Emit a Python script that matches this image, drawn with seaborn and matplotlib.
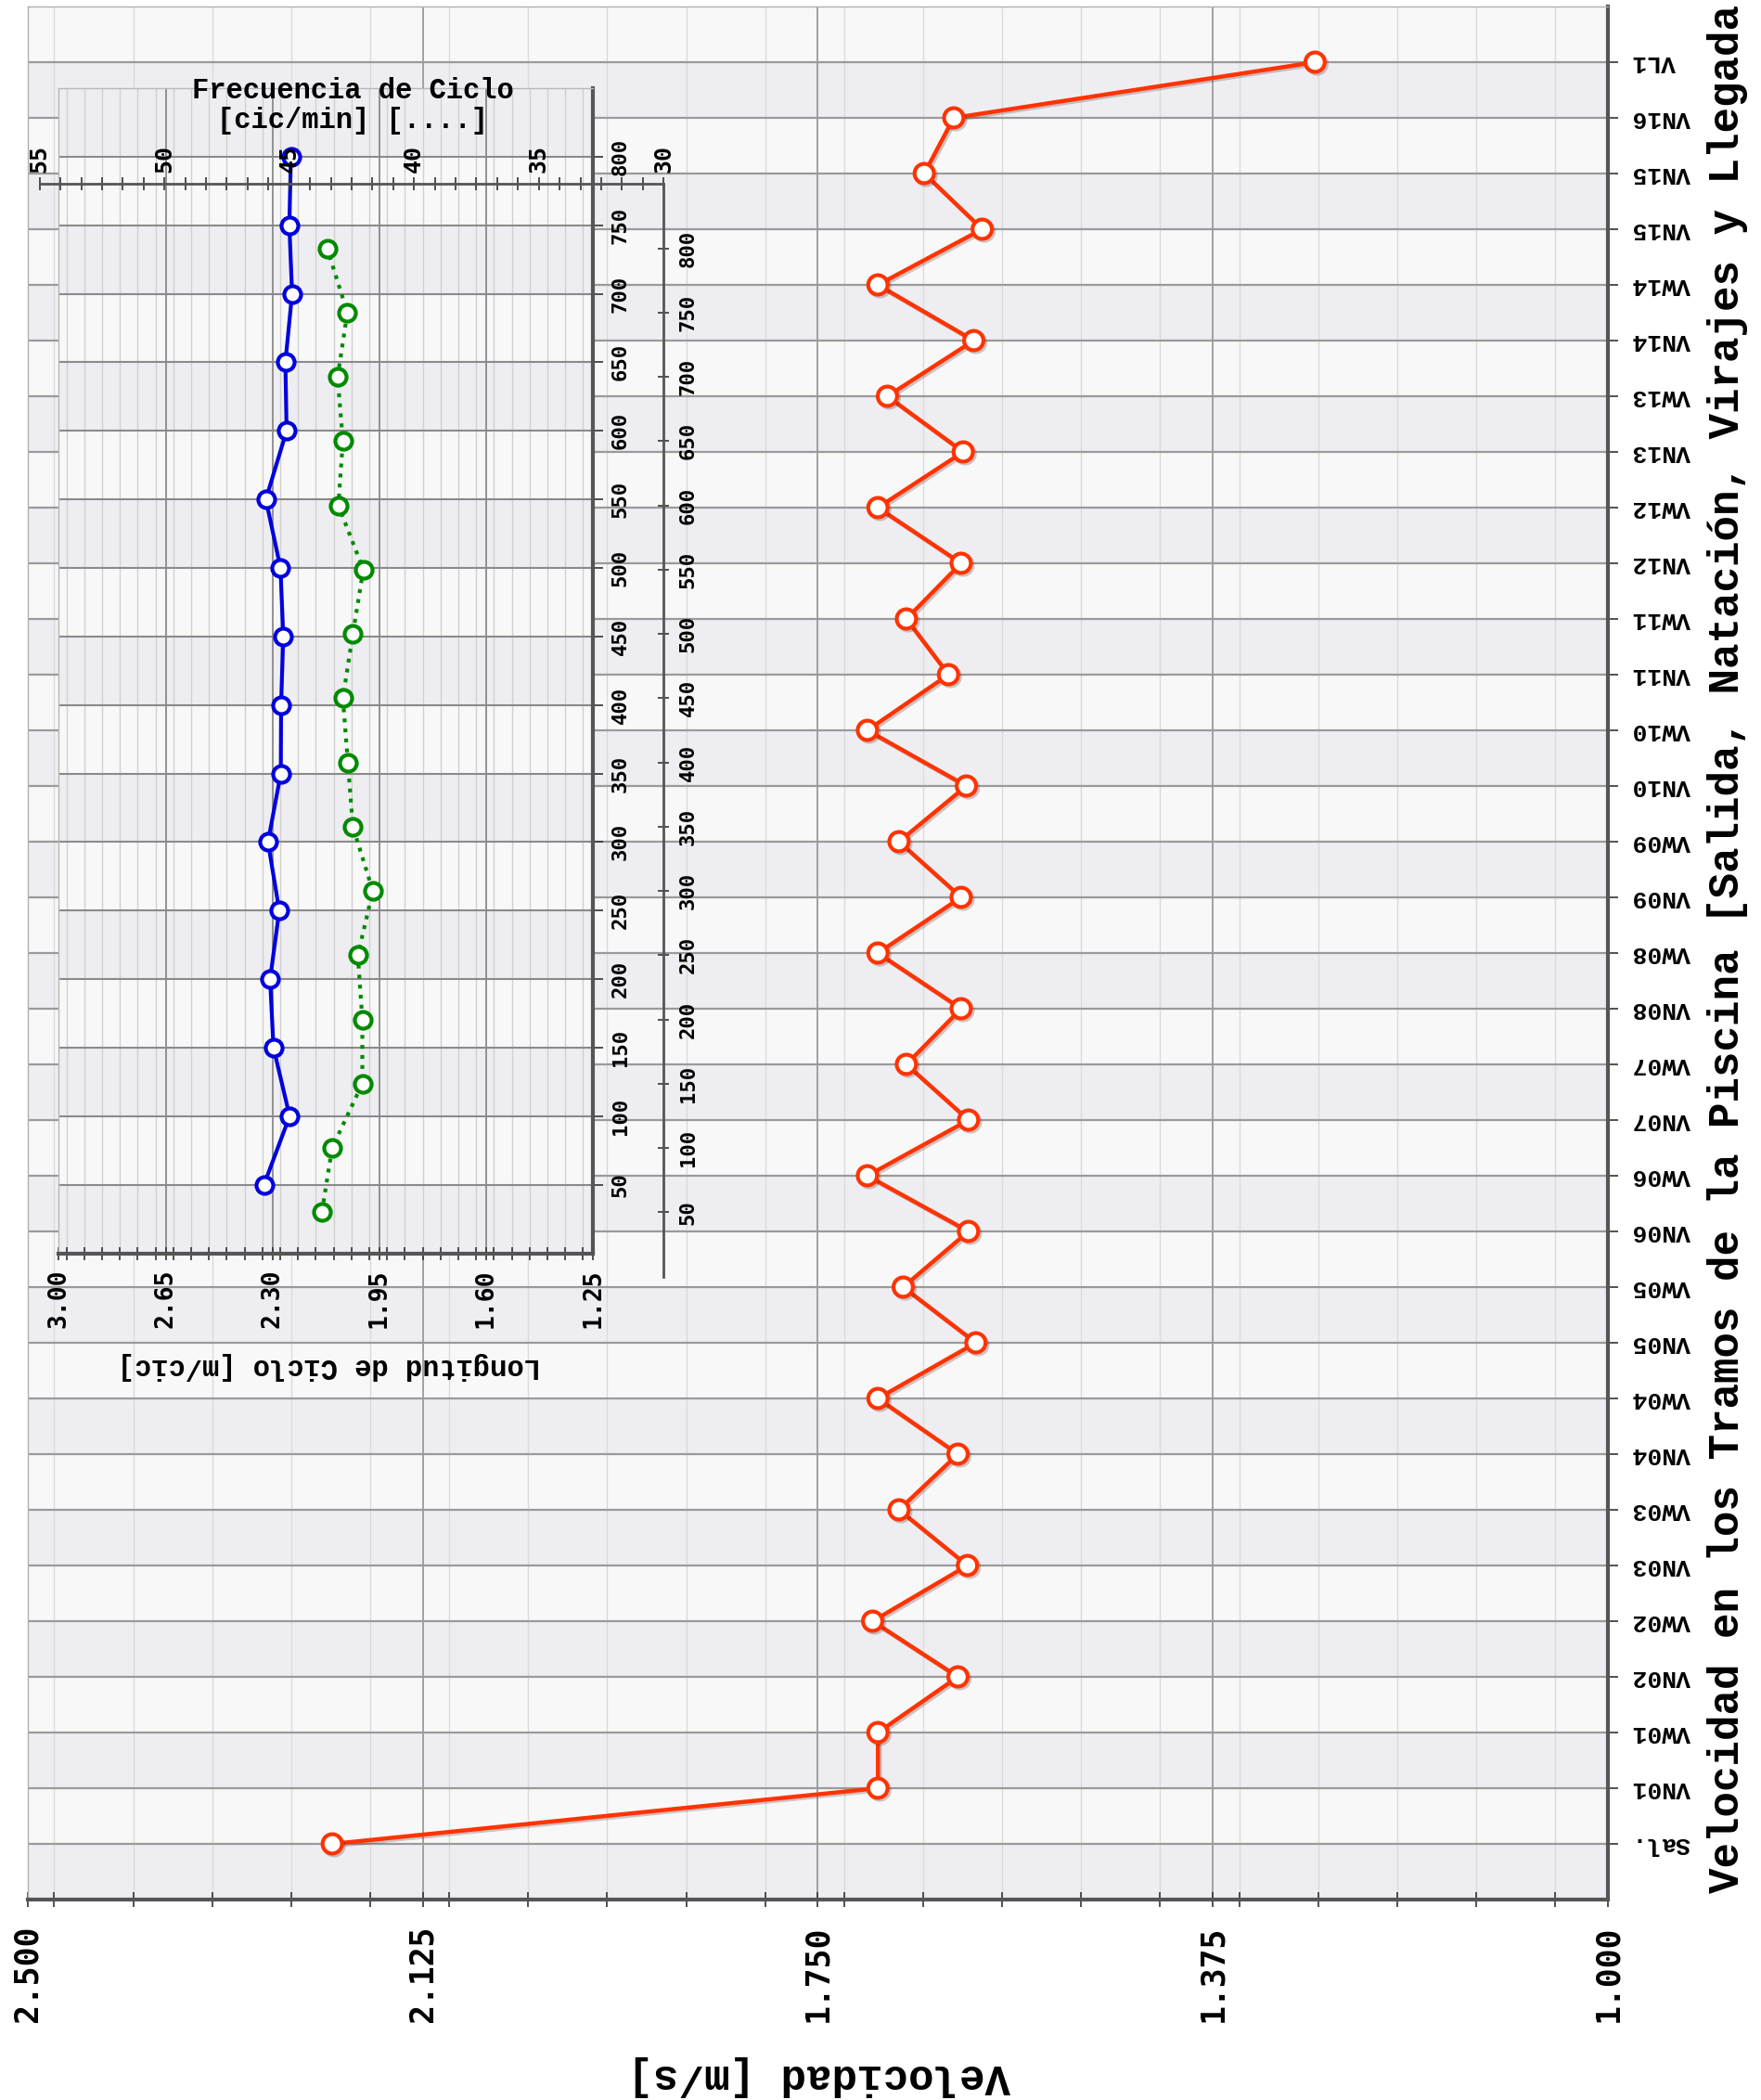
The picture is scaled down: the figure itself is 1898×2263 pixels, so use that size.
import numpy as np
import pandas as pd
import matplotlib
matplotlib.use("Agg")
import matplotlib.pyplot as plt
import matplotlib.patheffects as pe
from matplotlib.ticker import MultipleLocator, FixedLocator, FixedFormatter
import seaborn as sns

# ---------------- data ----------------
categories = ["Sal.", "VN01", "VW01", "VN02", "VW02", "VN03", "VW03", "VN04", "VW04",
              "VN05", "VW05", "VN06", "VW06", "VN07", "VW07", "VN08", "VW08", "VN09",
              "VW09", "VN10", "VW10", "VN11", "VW11", "VN12", "VW12", "VN13", "VW13",
              "VN14", "VW14", "VN15", "VN15", "VN16", "VL1"]
velocity = [2.211, 1.693, 1.693, 1.617, 1.698, 1.608, 1.673, 1.617, 1.693, 1.600, 1.669,
            1.607, 1.703, 1.607, 1.666, 1.614, 1.693, 1.614, 1.673, 1.609, 1.703, 1.626,
            1.666, 1.614, 1.693, 1.612, 1.684, 1.602, 1.693, 1.594, 1.649, 1.621, 1.278]
velocity_ticks = [2.500, 2.125, 1.750, 1.375, 1.000]

distance = [50, 100, 150, 200, 250, 300, 350, 400, 450, 500, 550, 600, 650, 700, 750, 800]
cycle_length = [2.328, 2.244, 2.297, 2.308, 2.278, 2.315, 2.273, 2.272, 2.265, 2.274,
                2.322, 2.254, 2.258, 2.236, 2.245, 2.240]
cycle_freq = [43.69, 43.28, 42.07, 42.07, 42.25, 41.65, 42.45, 42.65, 42.85, 42.45,
              42.03, 43.03, 42.85, 43.06, 42.67, 43.48]
length_ticks = [3.00, 2.65, 2.30, 1.95, 1.60, 1.25]
freq_ticks = [55, 50, 45, 40, 35, 30]

main_df = pd.DataFrame({"pos": np.arange(len(categories)), "vel": velocity})
inset_df = pd.DataFrame({"dist": distance, "len": cycle_length, "freq": cycle_freq})

# ---------------- style ----------------
W, H = 1899, 2263
fig = plt.figure(figsize=(W / 100, H / 100), dpi=100)
fig.patch.set_facecolor("white")

SERIF_MONO = ["Liberation Mono", "DejaVu Sans Mono"]
SANS_MONO = ["DejaVu Sans Mono"]
BAND_DARK = "#eeeef2"
BAND_LIGHT = "#f8f8f8"
GRID_MAJOR = "#9a9a9a"
GRID_MINOR = "#dadada"
SPINE = "#555555"
RED = "#ff3300"
BLUE = "#0000dd"
GREEN = "#008a00"


def fpos(x0, y0, x1, y1):
    """pixel box (top-left origin) -> figure fraction rect"""
    return [x0 / W, 1 - y1 / H, (x1 - x0) / W, (y1 - y0) / H]


# ---------------- main axes ----------------
ax = fig.add_axes(fpos(30, 7, 1733, 2047))
ax.set_facecolor(BAND_LIGHT)
n = len(categories)
for k in range(-1, n):
    if k % 2 != 0:
        ax.axhspan(k, k + 1, color=BAND_DARK, lw=0, zorder=0)

ax.set_xlim(2.5, 1.0)
ax.set_ylim(-1, n)
ax.xaxis.set_major_locator(FixedLocator(velocity_ticks))
ax.xaxis.set_major_formatter(FixedFormatter([f"{v:.3f}" for v in velocity_ticks]))
ax.xaxis.set_minor_locator(MultipleLocator(0.075))
ax.set_yticks(main_df["pos"])
ax.set_yticklabels(categories)
ax.yaxis.tick_right()

ax.grid(which="major", axis="x", color=GRID_MAJOR, lw=1.3, zorder=1)
ax.grid(which="minor", axis="x", color=GRID_MINOR, lw=1.0, zorder=1)
ax.grid(which="major", axis="y", color=GRID_MAJOR, lw=1.6, zorder=1)
ax.set_axisbelow(True)

for s in ["left", "top"]:
    ax.spines[s].set_color("#b0b0b0")
    ax.spines[s].set_linewidth(1.0)
for s in ["bottom", "right"]:
    ax.spines[s].set_color(SPINE)
    ax.spines[s].set_linewidth(3.0)

ax.tick_params(axis="x", which="both", direction="inout", length=12, width=1.2,
               color="#333333", top=False, pad=14)
ax.tick_params(axis="y", which="major", direction="out", length=8, width=1.2,
               color="#333333", pad=10, left=False, right=True)
for lab in ax.get_xticklabels():
    lab.set_rotation(90)
    lab.set_fontfamily(SANS_MONO)
    lab.set_fontweight("bold")
    lab.set_fontsize(25)
    lab.set_va("top")
    lab.set_ha("center")
for lab in ax.get_yticklabels():
    lab.set_rotation(180)
    lab.set_fontfamily(SERIF_MONO)
    lab.set_fontweight("bold")
    lab.set_fontsize(19)
    lab.set_ha("left")
    lab.set_va("center")

sns.lineplot(data=main_df, x="vel", y="pos", sort=False, estimator=None, ax=ax,
             color=RED, lw=3.2, marker="o", markersize=15, markerfacecolor="white",
             markeredgecolor=RED, markeredgewidth=3.0, zorder=5,
             path_effects=[pe.SimpleLineShadow(offset=(1.5, -1.5), alpha=0.25,
                                               shadow_color="#552222"),
                           pe.Normal()])
ax.set_xlabel("")
ax.set_ylabel("")

fig.text(883 / W, 1 - 2237 / H, "Velocidad [m/s]", rotation=180, ha="center",
         va="center", fontsize=33, fontweight="bold", family=SERIF_MONO)
fig.text(1862 / W, 1 - 1022 / H,
         "Velocidad en los Tramos de la Piscina [Salida, Natación, Virajes y Llegada",
         rotation=90, ha="center", va="center", fontsize=33, fontweight="bold",
         family=SERIF_MONO)

# ---------------- inset: cycle length ----------------
ia = fig.add_axes(fpos(63.4, 95, 639.3, 1350.5))
ia.set_facecolor(BAND_LIGHT)
for k in range(0, 17):
    if k % 2 == 0:
        ia.axhspan(k * 50, (k + 1) * 50, color=BAND_DARK, lw=0, zorder=0)
ia.set_xlim(3.00, 1.25)
ia.set_ylim(0, 850)
ia.xaxis.set_major_locator(FixedLocator(length_ticks))
ia.xaxis.set_major_formatter(FixedFormatter([f"{v:.2f}" for v in length_ticks]))
ia.xaxis.set_minor_locator(MultipleLocator(0.35 / 6))
ia.yaxis.set_major_locator(FixedLocator(distance))
ia.yaxis.tick_right()
ia.grid(which="major", axis="x", color="#8a8a8a", lw=1.3, zorder=1)
ia.grid(which="minor", axis="x", color="#d0d0d0", lw=1.0, zorder=1)
ia.grid(which="major", axis="y", color="#8a8a8a", lw=1.5, zorder=1)
ia.set_axisbelow(True)
for s in ["left", "top"]:
    ia.spines[s].set_color("#b8b8b8")
    ia.spines[s].set_linewidth(1.0)
for s in ["bottom", "right"]:
    ia.spines[s].set_color(SPINE)
    ia.spines[s].set_linewidth(3.0)
ia.tick_params(axis="x", which="both", direction="inout", length=10, width=1.2,
               color="#333333", pad=7)
ia.tick_params(axis="y", which="major", direction="out", length=8, width=1.2,
               color="#333333", pad=6, left=False, right=True)
for lab in ia.get_xticklabels():
    lab.set_rotation(90)
    lab.set_fontfamily(SANS_MONO)
    lab.set_fontweight("bold")
    lab.set_fontsize(19)
    lab.set_va("top")
    lab.set_ha("center")
for lab in ia.get_yticklabels():
    lab.set_rotation(90)
    lab.set_fontfamily(SANS_MONO)
    lab.set_fontweight("bold")
    lab.set_fontsize(16)
    lab.set_ha("left")
    lab.set_va("center")

sns.lineplot(data=inset_df, x="len", y="dist", sort=False, estimator=None, ax=ia,
             color=BLUE, lw=3.0, marker="o", markersize=13, markerfacecolor="white",
             markeredgecolor=BLUE, markeredgewidth=3.0, zorder=5)
ia.set_xlabel("")
ia.set_ylabel("")

fig.text(355 / W, 1 - 1472 / H, "Longitud de Ciclo [m/cic]", rotation=180,
         ha="center", va="center", fontsize=22, fontweight="bold", family=SERIF_MONO)
fig.text(380 / W, 1 - 114 / H, "Frecuencia de Ciclo\n[cic/min] [....]",
         ha="center", va="center", fontsize=22, fontweight="bold", family=SERIF_MONO,
         multialignment="center", linespacing=1.05)

# ---------------- inset: cycle frequency ----------------
fa = fig.add_axes(fpos(42.7, 198.3, 715.2, 1375.5))
fa.patch.set_alpha(0.0)
fa.set_xlim(55, 30)
fa.set_ylim(0, 850)
fa.xaxis.tick_top()
fa.xaxis.set_major_locator(FixedLocator(freq_ticks))
fa.xaxis.set_major_formatter(FixedFormatter([str(v) for v in freq_ticks]))
fa.xaxis.set_minor_locator(MultipleLocator(5 / 6))
fa.yaxis.tick_right()
fa.yaxis.set_major_locator(FixedLocator(distance))
fa.grid(False)
for s in ["left", "bottom"]:
    fa.spines[s].set_visible(False)
for s in ["top", "right"]:
    fa.spines[s].set_color(SPINE)
    fa.spines[s].set_linewidth(2.0)
fa.tick_params(axis="x", which="both", direction="inout", length=10, width=1.2,
               color="#333333", pad=4, bottom=False, top=True)
fa.tick_params(axis="y", which="major", direction="inout", length=8, width=1.2,
               color="#333333", pad=8, left=False, right=True)
for lab in fa.get_xticklabels():
    lab.set_rotation(90)
    lab.set_fontfamily(SANS_MONO)
    lab.set_fontweight("bold")
    lab.set_fontsize(18)
    lab.set_va("bottom")
    lab.set_ha("center")
for lab in fa.get_yticklabels():
    lab.set_rotation(90)
    lab.set_fontfamily(SANS_MONO)
    lab.set_fontweight("bold")
    lab.set_fontsize(16)
    lab.set_ha("left")
    lab.set_va("center")

sns.lineplot(data=inset_df, x="freq", y="dist", sort=False, estimator=None, ax=fa,
             color=GREEN, lw=3.0, linestyle=(0, (1, 1.6)), marker="o", markersize=13,
             markerfacecolor="white", markeredgecolor=GREEN, markeredgewidth=3.0,
             zorder=5)
fa.set_xlabel("")
fa.set_ylabel("")

fig.savefig("out.png", dpi=100, facecolor="white")
